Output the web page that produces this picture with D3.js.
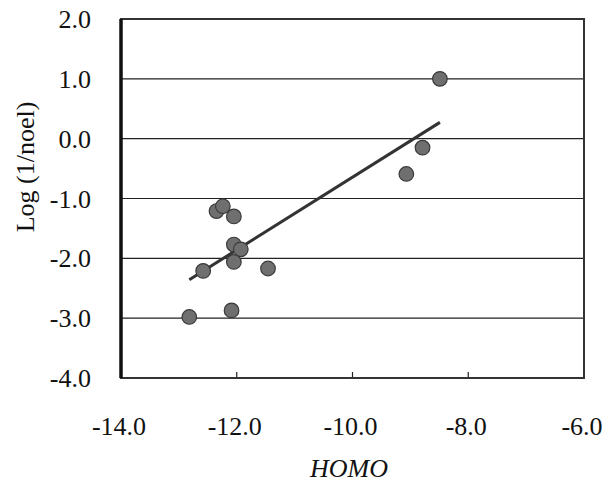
<!DOCTYPE html>
<html>
<head>
<meta charset="utf-8">
<script src="https://cdn.jsdelivr.net/npm/d3@7"></script>
<style>
body { margin: 0; background: #fff; }
text { font-family: "Liberation Serif", "Times New Roman", serif; fill: #111; }
</style>
</head>
<body>
<script>
// HOMO energy vs log(1/noel)
var homo = [-12.35, -12.24, -12.05, -12.05, -11.93, -12.05, -12.58, -11.46, -12.82, -12.09, -8.49, -8.79, -9.07];
var logNoel = [-1.21, -1.13, -1.30, -1.77, -1.85, -2.06, -2.21, -2.17, -2.98, -2.87, 1.00, -0.15, -0.59];
var xTicks = [-14, -12, -10, -8, -6];
var yTicks = [2, 1, 0, -1, -2, -3, -4];

var w = 605, h = 482;
var pLeft = 121, pRight = 584, pTop = 19, pBottom = 378;

var svg = d3.select("body").append("svg")
    .attr("width", w)
    .attr("height", h);

var x = d3.scaleLinear().domain([-14, -6]).range([pLeft, pRight]);
var y = d3.scaleLinear().domain([-4, 2]).range([pBottom, pTop]);

// horizontal gridlines
svg.selectAll(".grid")
    .data(yTicks.slice(1, -1))
    .enter().append("line")
    .attr("x1", pLeft).attr("x2", pRight)
    .attr("y1", function(d){ return y(d); })
    .attr("y2", function(d){ return y(d); })
    .style("stroke", "#222")
    .style("stroke-width", 1.2);

// inner tick marks on x axis
svg.selectAll(".xtick")
    .data(xTicks.slice(1, -1))
    .enter().append("line")
    .attr("x1", function(d){ return x(d); })
    .attr("x2", function(d){ return x(d); })
    .attr("y1", pBottom).attr("y2", pBottom - 6)
    .style("stroke", "#222")
    .style("stroke-width", 1.2);

// frame
svg.append("rect")
    .attr("x", pLeft).attr("y", pTop)
    .attr("width", pRight - pLeft).attr("height", pBottom - pTop)
    .style("fill", "none")
    .style("stroke", "#333")
    .style("stroke-width", 2);
svg.append("line")
    .attr("x1", pLeft).attr("x2", pLeft)
    .attr("y1", pTop).attr("y2", pBottom)
    .style("stroke", "#111")
    .style("stroke-width", 3.5);

// regression line computed from the points
var mx = d3.mean(homo), my = d3.mean(logNoel);
var sxy = d3.sum(homo, function(v, i){ return (v - mx) * (logNoel[i] - my); });
var sxx = d3.sum(homo, function(v){ return (v - mx) * (v - mx); });
var slope = sxy / sxx, icpt = my - slope * mx;
var ext = d3.extent(homo);

svg.append("line")
    .attr("x1", x(ext[0])).attr("y1", y(icpt + slope * ext[0]))
    .attr("x2", x(ext[1])).attr("y2", y(icpt + slope * ext[1]))
    .style("stroke", "#333")
    .style("stroke-width", 3);

// points
svg.selectAll(".pt")
    .data(homo)
    .enter().append("circle")
    .attr("cx", function(d){ return x(d); })
    .attr("cy", function(d, i){ return y(logNoel[i]); })
    .attr("r", 7.3)
    .style("fill", "#6f6f6f")
    .style("stroke", "#3a3a3a")
    .style("stroke-width", 1.2);

// tick labels
var fmt = function(d){ return d3.format(".1f")(d).replace("−", "-"); };

svg.selectAll(".ylab")
    .data(yTicks)
    .enter().append("text")
    .attr("x", 91)
    .attr("y", function(d){ return y(d) + 9; })
    .attr("text-anchor", "end")
    .style("font-size", "26px")
    .text(fmt);

svg.selectAll(".xlab")
    .data(xTicks)
    .enter().append("text")
    .attr("x", function(d){ return x(d) - 2; })
    .attr("y", 435)
    .attr("text-anchor", "middle")
    .style("font-size", "26px")
    .text(fmt);

// axis titles
svg.append("text")
    .attr("x", 349).attr("y", 477)
    .attr("text-anchor", "middle")
    .style("font-size", "26px")
    .style("font-style", "italic")
    .text("HOMO");

svg.append("text")
    .attr("transform", "translate(34,167) rotate(-90)")
    .attr("text-anchor", "middle")
    .style("font-size", "26px")
    .text("Log (1/noel)");
</script>
</body>
</html>
